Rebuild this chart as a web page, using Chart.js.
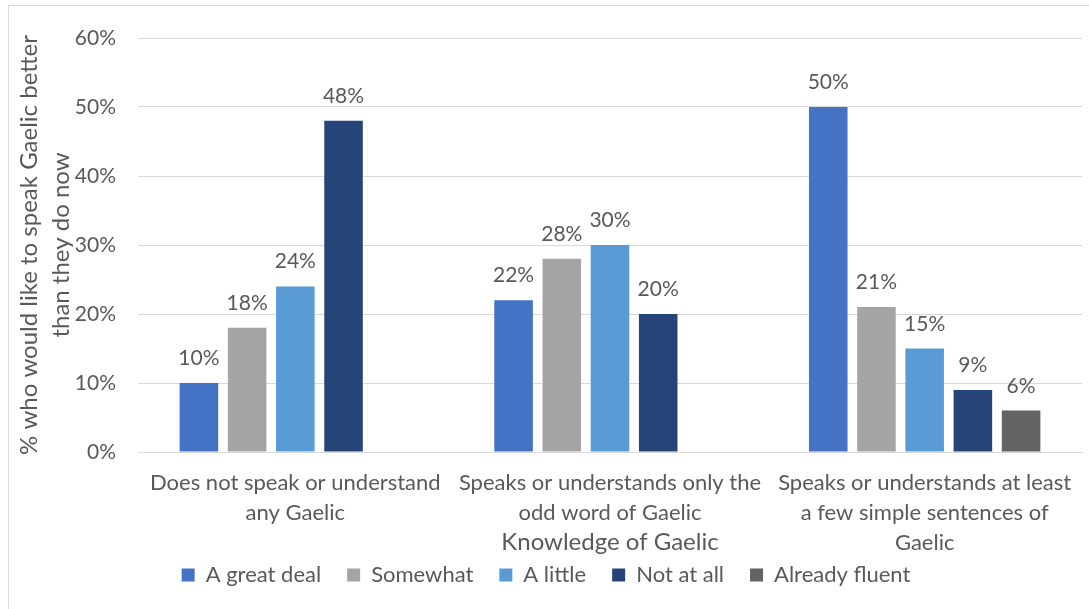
<!DOCTYPE html>
<html>
<head>
<meta charset="utf-8">
<script src="https://cdn.jsdelivr.net/npm/chart.js@4/dist/chart.umd.min.js"></script>
<style>
  html, body { margin: 0; padding: 0; background: #fff; }
  #wrap { position: relative; width: 1089px; height: 609px; overflow: hidden; }
  #frame { position: absolute; left: 8px; top: 5px; width: 1100px; height: 620px; border: 1px solid #d9d9d9; box-sizing: border-box; }
  canvas { position: absolute; left: 0; top: 0; }
</style>
</head>
<body>
<div id="wrap">
  <div id="frame"></div>
  <canvas id="chart" width="1089" height="609"></canvas>
</div>
<script>
// data
const categories = [
  ['Does not speak or understand', 'any Gaelic'],
  ['Speaks or understands only the', 'odd word of Gaelic'],
  ['Speaks or understands at least', 'a few simple sentences of', 'Gaelic']
]
const seriesNames = ['A great deal', 'Somewhat', 'A little', 'Not at all', 'Already fluent']
const greatDeal = [10, 22, 50]
const somewhat = [18, 28, 21]
const aLittle = [24, 30, 15]
const notAtAll = [48, 20, 9]
const alreadyFluent = [null, null, 6]
const yTicks = [0, 10, 20, 30, 40, 50, 60]

const colors = ['#4472C4', '#A5A5A5', '#5B9BD5', '#264478', '#636363']
const textColor = '#595959'
const fontFamily = 'Lato, "Open Sans", sans-serif'

const values = [greatDeal, somewhat, aLittle, notAtAll, alreadyFluent]

// labels above the bars
const barLabels = {
  id: 'barLabels',
  afterDatasetsDraw(chart) {
    const ctx = chart.ctx
    ctx.save()
    ctx.font = '21px ' + fontFamily
    ctx.fillStyle = textColor
    ctx.textAlign = 'center'
    ctx.textBaseline = 'alphabetic'
    chart.data.datasets.forEach((ds, i) => {
      chart.getDatasetMeta(i).data.forEach((bar, j) => {
        const v = ds.data[j]
        if (v == null) return
        ctx.fillText(v + '%', bar.x, bar.y - 18)
      })
    })
    ctx.restore()
  }
}

// legend sits tight under the axis labels, like in excel
const legendUp = {
  id: 'legendUp',
  afterLayout(chart) {
    const lg = chart.legend
    const h = lg.bottom - lg.top
    lg.top = 538
    lg.bottom = lg.top + h
  }
}

new Chart('chart', {
  type: 'bar',
  data: {
    labels: categories,
    datasets: seriesNames.map((name, i) => ({
      label: name,
      data: values[i],
      backgroundColor: colors[i],
      borderWidth: 0,
      barPercentage: 0.8,
      categoryPercentage: 0.766
    }))
  },
  options: {
    responsive: false,
    animation: false,
    layout: { padding: { left: 10, right: 7, top: 38, bottom: -6 } },
    plugins: {
      legend: {
        position: 'bottom',
        labels: {
          color: textColor,
          font: { family: fontFamily, size: 22 },
          boxWidth: 13,
          boxHeight: 13,
          padding: 26
        }
      },
      tooltip: { enabled: false }
    },
    scales: {
      x: {
        grid: { display: false, drawTicks: false },
        border: { color: '#d9d9d9' },
        ticks: {
          color: textColor,
          font: { family: fontFamily, size: 22, lineHeight: 1.36 },
          padding: 16,
          maxRotation: 0,
          autoSkip: false
        },
        title: {
          display: true,
          text: 'Knowledge of Gaelic',
          color: textColor,
          font: { family: fontFamily, size: 24 },
          padding: { top: 0, bottom: 0 }
        },
        afterFit(s) { s.height = 105 }
      },
      y: {
        min: 0,
        max: 60,
        afterBuildTicks(s) { s.ticks = yTicks.map(v => ({ value: v })) },
        grid: { color: '#d9d9d9', drawTicks: false },
        border: { display: false },
        ticks: {
          color: textColor,
          font: { family: fontFamily, size: 21 },
          padding: 22,
          callback: v => v + '%'
        },
        title: {
          display: true,
          text: ['% who would like to speak Gaelic better', 'than they do now'],
          color: textColor,
          font: { family: fontFamily, size: 24, lineHeight: 1.33 },
          padding: { top: 3, bottom: 0 }
        },
        afterFit(s) { s.width = 128 }
      }
    }
  },
  plugins: [barLabels, legendUp]
})
</script>
</body>
</html>
